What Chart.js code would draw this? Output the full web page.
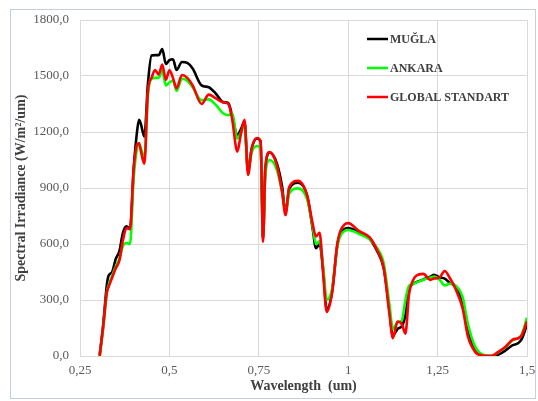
<!DOCTYPE html>
<html>
<head>
<meta charset="utf-8">
<script src="https://cdn.jsdelivr.net/npm/chart.js@4/dist/chart.umd.min.js"></script>
<style>
  html, body { margin: 0; padding: 0; background: #ffffff; }
  #wrap { position: relative; width: 538px; height: 401px; }
</style>
</head>
<body>
<div id="wrap"><canvas id="c" width="538" height="401"></canvas></div>
<script>
// Wavelength grid (um)
const wavelengths = [
  0.305, 0.315, 0.325, 0.33, 0.34, 0.35, 0.36, 0.37, 0.38, 0.39,
  0.40, 0.41, 0.415, 0.42, 0.43, 0.44, 0.45, 0.46, 0.47, 0.48,
  0.49, 0.50, 0.51, 0.52, 0.535, 0.55, 0.565, 0.59, 0.61, 0.63,
  0.65, 0.665, 0.675, 0.69, 0.70, 0.71, 0.72, 0.73, 0.745, 0.755,
  0.762, 0.768, 0.78, 0.80, 0.815, 0.825, 0.835, 0.86, 0.885, 0.90,
  0.91, 0.92, 0.93, 0.94, 0.955, 0.97, 0.99, 1.00, 1.03, 1.06,
  1.08, 1.10, 1.115, 1.125, 1.138, 1.15, 1.16, 1.17, 1.18, 1.19,
  1.21, 1.23, 1.24, 1.255, 1.27, 1.285, 1.30, 1.32, 1.335, 1.355,
  1.375, 1.40, 1.42, 1.44, 1.46, 1.475, 1.485, 1.50
];

// Spectral irradiance (W/m²/um)
const mugla = [
  5, 170, 380, 430, 450, 520, 560, 660, 695, 680,
  1000, 1210, 1265, 1245, 1175, 1460, 1610, 1612, 1612, 1645,
  1565, 1585, 1590, 1532, 1575, 1570, 1540, 1450, 1440, 1405,
  1360, 1355, 1290, 1185, 1215, 1255, 990, 1110, 1165, 1150,
  630, 990, 1090, 1035, 910, 770, 895, 928, 860, 690,
  578, 600, 460, 250, 345, 600, 680, 685, 662, 628,
  565, 465, 250, 110, 145, 160, 220, 360, 385, 395,
  410, 425, 435, 422, 415, 390, 372, 275, 130, 30,
  3, 0, 8, 30, 58, 68, 90, 168
];

const ankara = [
  0, 150, 340, 380, 430, 480, 520, 590, 605, 600,
  950, 1120, 1140, 1115, 1060, 1400, 1485, 1490, 1490, 1530,
  1450, 1465, 1475, 1420, 1485, 1475, 1440, 1370, 1375, 1345,
  1300, 1290, 1300, 1166, 1195, 1237, 985, 1090, 1125, 1110,
  640, 960, 1050, 1000, 880, 770, 870, 898, 840, 700,
  600, 615, 480, 300, 360, 590, 670, 675, 655, 625,
  580, 490, 280, 145, 180, 190, 300, 375, 385, 393,
  408, 420, 425, 410, 378, 388, 378, 315, 170, 50,
  8, 0, 20, 48, 85, 95, 115, 205
];

const globalStandart = [
  0, 160, 340, 370, 420, 470, 510, 620, 685, 680,
  1000, 1135, 1140, 1100, 1030, 1420, 1490, 1532, 1508, 1562,
  1480, 1530, 1490, 1434, 1505, 1490, 1450, 1350, 1400, 1380,
  1360, 1350, 1275, 1095, 1190, 1265, 970, 1110, 1168, 1150,
  612, 1000, 1092, 1025, 880, 755, 905, 938, 860, 715,
  640, 660, 440, 236, 340, 605, 705, 712, 670, 635,
  570, 465, 230, 95, 185, 170, 120, 330, 400, 430,
  440, 408, 415, 420, 455, 415, 360, 255, 103, 22,
  2, 0, 22, 50, 88, 95, 110, 185
];

const seriesNames = ['MUĞLA', 'ANKARA', 'GLOBAL STANDART'];
const xTicks = [0.25, 0.5, 0.75, 1, 1.25, 1.5];
const yTicks = [0, 300, 600, 900, 1200, 1500, 1800];

const toPoints = vals => vals.map((v, i) => ({ x: wavelengths[i], y: v }));
const comma = s => String(s).replace('.', ',');

const serif = '"Liberation Serif", "Times New Roman", serif';
const gridColor = '#d9d9d9';

// Legend drawn inside the plot, upper right
const insideLegend = {
  id: 'insideLegend',
  afterDraw(chart) {
    const { ctx, chartArea } = chart;
    const x0 = chartArea.left + 287;
    const y0 = chartArea.top + 19;
    ctx.save();
    ctx.font = 'bold 12px ' + serif;
    ctx.textBaseline = 'middle';
    ctx.textAlign = 'left';
    chart.data.datasets.forEach((ds, i) => {
      const y = y0 + i * 29;
      ctx.strokeStyle = ds.borderColor;
      ctx.lineWidth = 2.5;
      ctx.beginPath();
      ctx.moveTo(x0, y);
      ctx.lineTo(x0 + 21, y);
      ctx.stroke();
      ctx.fillStyle = '#404040';
      ctx.fillText(ds.label, x0 + 23, y + 0.5);
    });
    ctx.restore();
  }
};

// Thin frame around the whole chart
const frame = {
  id: 'frame',
  beforeDraw(chart) {
    const { ctx } = chart;
    ctx.save();
    ctx.fillStyle = '#ffffff';
    ctx.fillRect(0, 0, chart.width, chart.height);
    ctx.strokeStyle = '#c3cfdd';
    ctx.lineWidth = 1;
    ctx.strokeRect(10.5, 9.5, 525, 389);
    ctx.restore();
  }
};

new Chart(document.getElementById('c'), {
  type: 'line',
  data: {
    datasets: [
      { label: seriesNames[0], data: toPoints(mugla), borderColor: '#000000', order: 3 },
      { label: seriesNames[1], data: toPoints(ankara), borderColor: '#00ff00', order: 2 },
      { label: seriesNames[2], data: toPoints(globalStandart), borderColor: '#ff0000', order: 1 }
    ]
  },
  options: {
    responsive: false,
    animation: false,
    devicePixelRatio: 1,
    layout: { padding: { top: 20, right: 11, left: 0, bottom: 0 } },
    elements: {
      point: { radius: 0 },
      line: { borderWidth: 2.6, cubicInterpolationMode: 'monotone', fill: false }
    },
    plugins: {
      legend: { display: false },
      tooltip: { enabled: false }
    },
    scales: {
      x: {
        type: 'linear',
        min: 0.25,
        max: 1.5,
        afterBuildTicks(scale) { scale.ticks = xTicks.map(v => ({ value: v })); },
        afterFit(scale) {
          scale.height = 45;
          scale.paddingLeft = 0;
          scale.paddingRight = 0;
        },
        grid: { color: gridColor, drawTicks: false },
        border: { color: gridColor },
        ticks: {
          padding: 7,
          color: '#595959',
          font: { family: serif, size: 13 },
          callback: v => comma(v)
        },
        title: {
          display: true,
          text: 'Wavelength  (um)',
          color: '#404040',
          font: { family: serif, size: 14, weight: 'bold' },
          padding: { top: 0, bottom: 6 }
        }
      },
      y: {
        min: 0,
        max: 1800,
        afterBuildTicks(scale) { scale.ticks = yTicks.map(v => ({ value: v })); },
        afterFit(scale) {
          scale.width = 80;
          scale.paddingTop = 0;
          scale.paddingBottom = 0;
        },
        grid: { color: gridColor, drawTicks: false },
        border: { color: gridColor },
        ticks: {
          padding: 11,
          color: '#595959',
          font: { family: serif, size: 13 },
          callback: v => comma(Number(v).toFixed(1))
        },
        title: {
          display: true,
          text: 'Spectral Irradiance (W/m²/um)',
          color: '#404040',
          font: { family: serif, size: 14, weight: 'bold' },
          padding: { top: 13, bottom: 0 }
        }
      }
    }
  },
  plugins: [frame, insideLegend]
});
</script>
</body>
</html>
